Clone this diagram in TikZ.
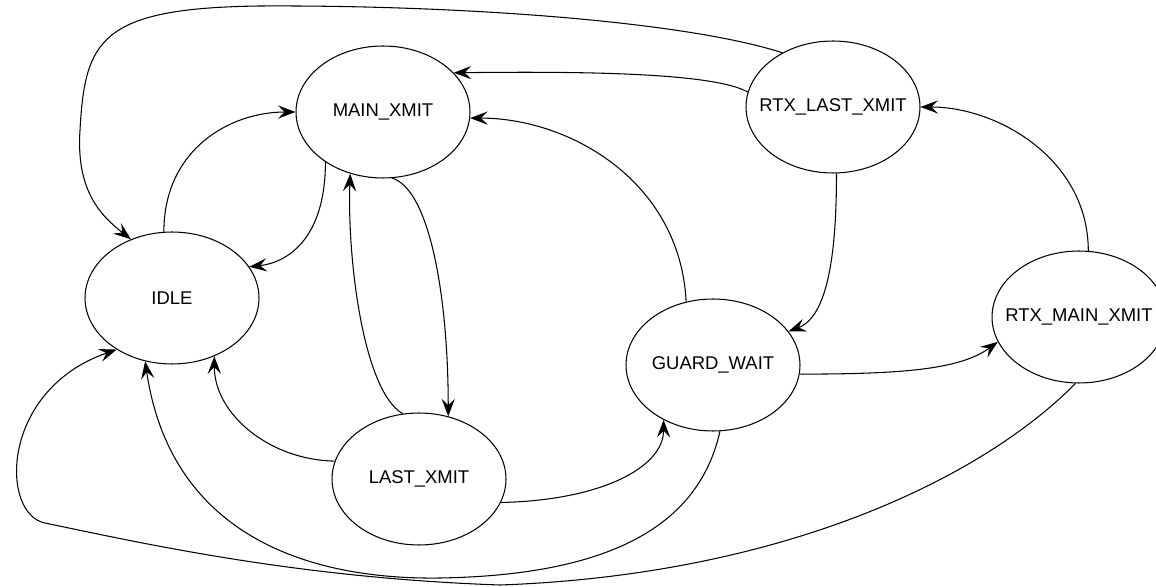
\documentclass[tikz,border=0pt]{standalone}
\usepackage{fontspec}
\setmainfont{Liberation Sans}
\usetikzlibrary{shapes.geometric,arrows.meta}

\begin{document}
\begin{tikzpicture}[x=0.02cm, y=-0.02cm, line width=0.6pt,
        >={Stealth[length=10pt,width=7.5pt,inset=3.8pt]},
        state/.style={draw, ellipse, inner sep=0pt, minimum width=3.48cm,
            minimum height=2.64cm, font=\fontsize{10.5}{12}\selectfont}]

        \useasboundingbox (0,0) rectangle (1156,587);

        % states
        \foreach \name/\x/\y/\txt in {idle/172/298/IDLE, main/383/112/MAIN\_XMIT,
            rlx/833/107/RTX\_LAST\_XMIT, rmx/1079/317/RTX\_MAIN\_XMIT,
            guard/713/365/GUARD\_WAIT, last/419/479/LAST\_XMIT} {
            \node[state] (\name) at (\x,\y) {\makebox[0pt]{\txt}};
        }

        % transitions
        \draw[->] (idle.97) .. controls +(0,-82) and +(-66,0) .. (main.180);
        \draw[->] (main.221) .. controls +(0,78) and +(37,-4) .. (idle.22);
        \draw[->] (main.278) .. controls +(38,12) and +(0,-117) .. (last.65);
        \draw[->] (last.104) .. controls +(-40,-23) and +(-3,83) .. (main.242);
        \draw[->] (last.168) .. controls +(-65,-1) and +(0,58) .. (idle.306);
        \draw[->] (last.344) .. controls +(99,-2) and +(0,48) .. (guard.228);
        \draw[->] (guard.113) .. controls +(-6,-120) and +(100,0) .. (main.-4);
        \draw[->] (guard.354) .. controls +(100,0) and +(-38,28) .. (rmx.197);
        \draw[->] (rmx.82) .. controls +(0,-91) and +(78,0) .. (rlx.0);
        \draw[->] (rlx.170) .. controls (715,74) and (600,71) .. (main.29);
        \draw[->] (rlx.273) .. controls +(0,77) and +(40,-15) .. (guard.24);

        % long ones round the outside
        \draw[->] (rlx.133) .. controls (680,20) and (450,5) .. (260,6)
            .. controls (100,8) and (85,40) .. (80,130)
            .. controls (76,190) and (100,215) .. (idle.125);
        \draw[->] (guard.276) .. controls (700,520) and (620,575) .. (440,578)
            .. controls (300,580) and (170,530) .. (idle.247);
        \draw[->] (rmx.267) .. controls (980,480) and (780,575) .. (500,585)
            .. controls (300,578) and (150,545) .. (45,523)
            .. controls (0,514) and (0,390) .. (idle.223);

\end{tikzpicture}
\end{document}
